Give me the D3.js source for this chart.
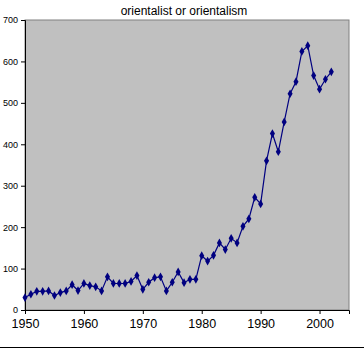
<!DOCTYPE html>
<html>
<head>
<meta charset="utf-8">
<script src="https://cdn.jsdelivr.net/npm/d3@7"></script>
<style>
  body { margin: 0; background: #fff; }
  text { font-family: "Liberation Sans", Arial, sans-serif; }
</style>
</head>
<body>
<div id="chart"></div>
<script>
// values
const years = [1950, 1951, 1952, 1953, 1954, 1955, 1956, 1957, 1958, 1959,
  1960, 1961, 1962, 1963, 1964, 1965, 1966, 1967, 1968, 1969,
  1970, 1971, 1972, 1973, 1974, 1975, 1976, 1977, 1978, 1979,
  1980, 1981, 1982, 1983, 1984, 1985, 1986, 1987, 1988, 1989,
  1990, 1991, 1992, 1993, 1994, 1995, 1996, 1997, 1998, 1999,
  2000, 2001, 2002];
const counts = [30, 38, 45, 45, 46, 35, 42, 46, 61, 47,
  64, 59, 56, 46, 80, 64, 64, 64, 69, 83,
  50, 67, 78, 80, 46, 67, 92, 66, 74, 74,
  131, 118, 132, 162, 146, 173, 162, 202, 220, 272,
  256, 360, 426, 382, 454, 522, 551, 624, 638, 566,
  533, 557, 575];
const xTicks = [1950, 1960, 1970, 1980, 1990, 2000];
const yTicks = [0, 100, 200, 300, 400, 500, 600, 700];
const title = "orientalist or orientalism";

const width = 364, height = 351;
const margin = { top: 20, right: 15, bottom: 41, left: 25 };
const innerW = width - margin.left - margin.right;
const innerH = height - margin.top - margin.bottom;

const svg = d3.select("#chart").append("svg")
  .attr("width", width)
  .attr("height", height);

const g = svg.append("g")
  .attr("transform", `translate(${margin.left},${margin.top})`);

const x = d3.scaleLinear().domain([1950, 2005]).range([0, innerW]);
const y = d3.scaleLinear().domain([0, 700]).range([innerH, 0]);

// plot area
g.append("rect")
  .attr("width", innerW)
  .attr("height", innerH)
  .attr("fill", "#c0c0c0")
  .attr("stroke", "#808080")
  .attr("stroke-width", 1);

// axes
const yAxis = g.append("g")
  .call(d3.axisLeft(y).tickValues(yTicks).tickSize(4).tickPadding(3));
yAxis.selectAll("text").style("font-size", "9px").attr("fill", "#000");

const xAxis = g.append("g")
  .attr("transform", `translate(0,${innerH})`)
  .call(d3.axisBottom(x).tickValues(xTicks).tickFormat(d3.format("d")).tickSize(4).tickPadding(5));
xAxis.selectAll("text").style("font-size", "12.5px").attr("fill", "#000");

svg.selectAll(".domain").attr("stroke", "#000");
svg.selectAll(".tick line").attr("stroke", "#000");

// series
const pts = years.map((yr, i) => [yr, counts[i]]);

g.append("path")
  .datum(pts)
  .attr("fill", "none")
  .attr("stroke", "#000080")
  .attr("stroke-width", 1.2)
  .attr("d", d3.line().x(d => x(d[0])).y(d => y(d[1])));

g.selectAll("path.marker")
  .data(pts)
  .join("path")
  .attr("class", "marker")
  .attr("transform", d => `translate(${x(d[0])},${y(d[1])})`)
  .attr("d", d3.symbol(d3.symbolDiamond, 22))
  .attr("fill", "#000080");

// title
svg.append("text")
  .attr("x", 184)
  .attr("y", 15)
  .attr("text-anchor", "middle")
  .style("font-size", "12px")
  .text(title);

// bottom frame line
svg.append("line")
  .attr("x1", 0).attr("x2", width)
  .attr("y1", 347.5).attr("y2", 347.5)
  .attr("stroke", "#000");
</script>
</body>
</html>
